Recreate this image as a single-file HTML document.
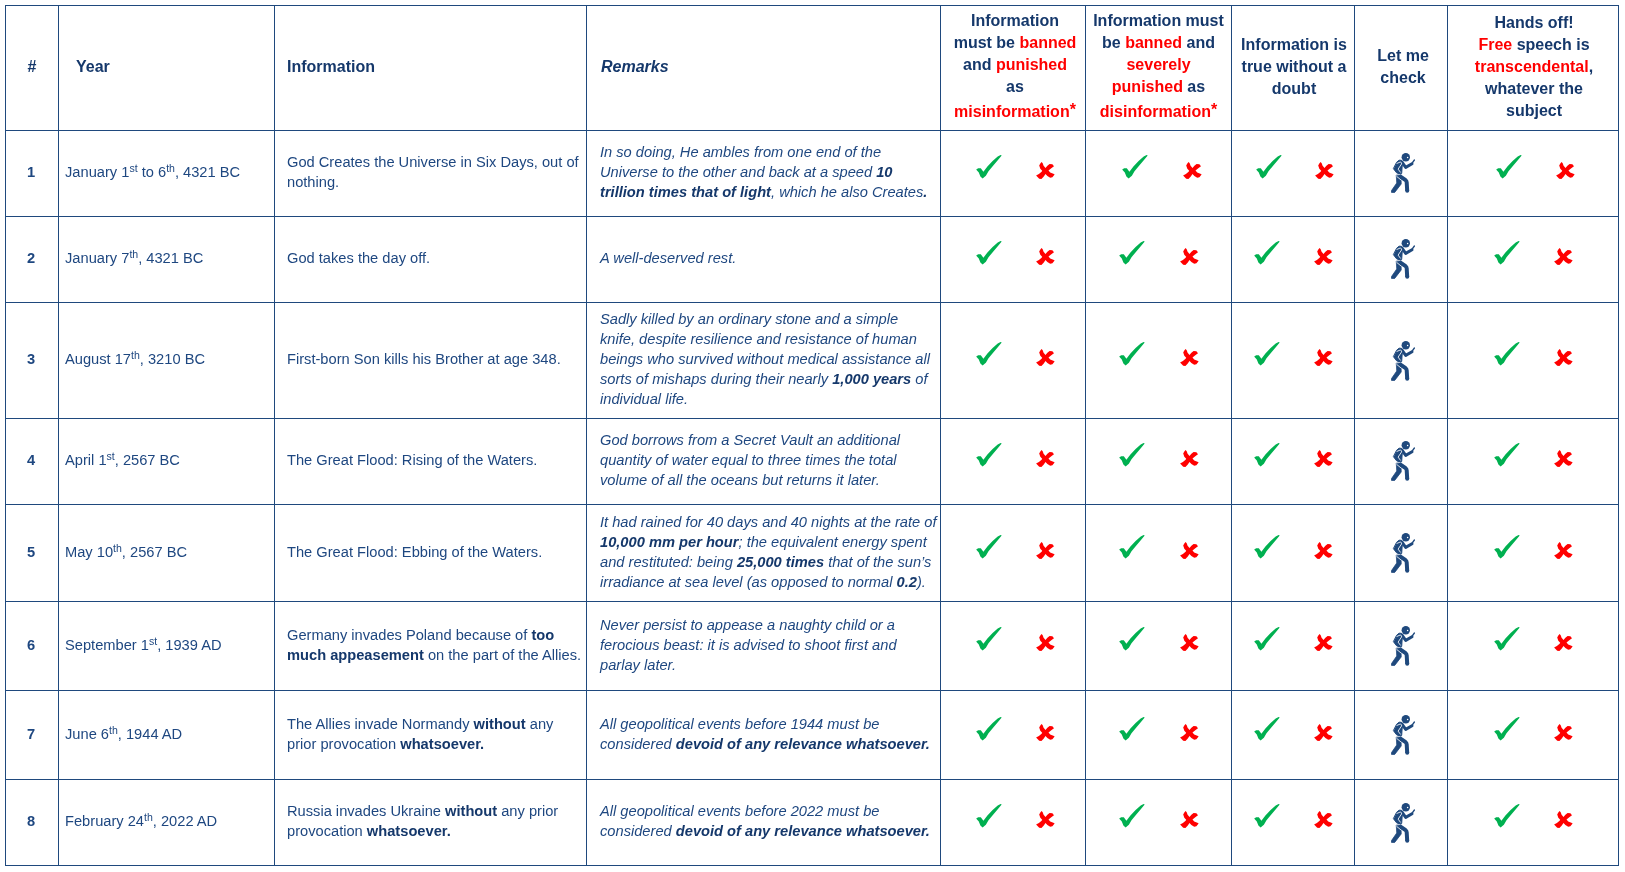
<!DOCTYPE html>
<html><head><meta charset="utf-8"><style>
html,body{margin:0;padding:0;background:#fff;width:1625px;height:872px;overflow:hidden}
body{position:relative;font-family:"Liberation Sans",sans-serif;color:#15386B}
.c{position:absolute;box-sizing:border-box;border:1px solid #1F497D;display:flex;align-items:center}
.hd{font-weight:bold;font-size:16px;line-height:22px;width:100%;position:relative;top:-1px}
.hc{text-align:center}
.r{color:#FF0000}
.t{font-size:14.67px;line-height:20px;width:100%;position:relative;top:-2px;color:#1E4780}
.t b{color:#15386B}
.it{font-style:italic}
sup{font-size:0.72em;vertical-align:baseline;position:relative;top:-0.45em;line-height:0}
.ast{font-size:16px;position:relative;top:-2px;line-height:0}
.ll{display:inline-block;margin-top:3px}
body{-webkit-font-smoothing:antialiased}
.wrap{position:absolute;left:0;top:0;width:1625px;height:872px;will-change:transform}
.ic{position:absolute}
</style></head><body><div class="wrap">
<div class="c" style="left:5px;top:5px;width:54px;height:126px;"><div class="hd" style="text-align:center">#</div></div>
<div class="c" style="left:58px;top:5px;width:217px;height:126px;"><div class="hd" style="padding-left:17px">Year</div></div>
<div class="c" style="left:274px;top:5px;width:313px;height:126px;"><div class="hd" style="padding-left:12px">Information</div></div>
<div class="c" style="left:586px;top:5px;width:355px;height:126px;"><div class="hd" style="padding-left:14px;font-style:italic">Remarks</div></div>
<div class="c" style="left:940px;top:5px;width:146px;height:126px;"><div class="hd hc" style="top:-2px;left:2px">Information<br>must be <span class="r">banned</span><br>and <span class="r">punished</span><br>as<br><span class="ll"><span class="r">misinformation<span class="ast">*</span></span></span></div></div>
<div class="c" style="left:1085px;top:5px;width:147px;height:126px;"><div class="hd hc" style="top:-2px">Information must<br>be <span class="r">banned</span> and<br><span class="r">severely</span><br><span class="r">punished</span> as<br><span class="ll"><span class="r">disinformation<span class="ast">*</span></span></span></div></div>
<div class="c" style="left:1231px;top:5px;width:124px;height:126px;"><div class="hd hc" style="left:1px">Information is<br>true without a<br>doubt</div></div>
<div class="c" style="left:1354px;top:5px;width:94px;height:126px;"><div class="hd hc" style="left:2px">Let me<br>check</div></div>
<div class="c" style="left:1447px;top:5px;width:172px;height:126px;"><div class="hd hc" style="left:1px">Hands off!<br><span class="r">Free</span> speech is<br><span class="r">transcendental</span>,<br>whatever the<br>subject</div></div>
<div class="c" style="left:5px;top:130px;width:54px;height:87px;"><div class="t" style="text-align:center;font-weight:bold;left:-1px;top:-2px">1</div></div>
<div class="c" style="left:58px;top:130px;width:217px;height:87px;"><div class="t" style="padding-left:6px;top:-2px">January 1<sup>st</sup> to 6<sup>th</sup>, 4321 BC</div></div>
<div class="c" style="left:274px;top:130px;width:313px;height:87px;"><div class="t" style="padding-left:12px;top:-2px">God Creates the Universe in Six Days, out of<br>nothing.</div></div>
<div class="c" style="left:586px;top:130px;width:355px;height:87px;"><div class="t it" style="padding-left:13px;top:-2px">In so doing, He ambles from one end of the<br>Universe to the other and back at a speed <b>10</b><br><b>trillion times that of light</b>, which he also Creates<b>.</b></div></div>
<div class="c" style="left:940px;top:130px;width:146px;height:87px;"></div>
<div class="c" style="left:1085px;top:130px;width:147px;height:87px;"></div>
<div class="c" style="left:1231px;top:130px;width:124px;height:87px;"></div>
<div class="c" style="left:1354px;top:130px;width:94px;height:87px;"></div>
<div class="c" style="left:1447px;top:130px;width:172px;height:87px;"></div>
<svg class="ic" style="left:972px;top:150px" width="34" height="32" viewBox="0 0 34 32"><path fill="#00B050" d="M4.2 19.4 L6.2 18.2 L8.8 18.2 L11.4 21.7 L15.4 16.5 L20.6 11.0 L25.7 6.6 L28.6 5.0 L29.7 5.5 L26.4 9.5 L21.3 15.4 L16.5 21.3 L13.9 25.7 L10.6 28.6 L8.4 26.6 L6.8 22.4 L5.0 20.5 Z"/></svg><svg class="ic" style="left:1032px;top:158px" width="28" height="24" viewBox="0 0 28 24"><path fill="#FF0000" d="M9.6 4.1 L10.7 5.2 L11.6 7.7 L13.5 9.9 L15.4 7.7 L17.6 5.9 L20.4 6.2 L22.0 8.3 L19.3 10.2 L16.5 12.4 L18.2 14.6 L22.0 16.0 L22.6 16.5 L20.4 19.3 L18.2 19.8 L15.4 17.9 L13.5 16.0 L11.6 18.7 L9.4 20.9 L7.2 20.7 L4.1 17.4 L6.9 16.0 L9.6 13.8 L10.2 12.7 L8.3 10.7 L7.2 7.4 L8.3 5.5 Z"/></svg><svg class="ic" style="left:1118px;top:150px" width="34" height="32" viewBox="0 0 34 32"><path fill="#00B050" d="M4.2 19.4 L6.2 18.2 L8.8 18.2 L11.4 21.7 L15.4 16.5 L20.6 11.0 L25.7 6.6 L28.6 5.0 L29.7 5.5 L26.4 9.5 L21.3 15.4 L16.5 21.3 L13.9 25.7 L10.6 28.6 L8.4 26.6 L6.8 22.4 L5.0 20.5 Z"/></svg><svg class="ic" style="left:1178.5px;top:158px" width="28" height="24" viewBox="0 0 28 24"><path fill="#FF0000" d="M9.6 4.1 L10.7 5.2 L11.6 7.7 L13.5 9.9 L15.4 7.7 L17.6 5.9 L20.4 6.2 L22.0 8.3 L19.3 10.2 L16.5 12.4 L18.2 14.6 L22.0 16.0 L22.6 16.5 L20.4 19.3 L18.2 19.8 L15.4 17.9 L13.5 16.0 L11.6 18.7 L9.4 20.9 L7.2 20.7 L4.1 17.4 L6.9 16.0 L9.6 13.8 L10.2 12.7 L8.3 10.7 L7.2 7.4 L8.3 5.5 Z"/></svg><svg class="ic" style="left:1252px;top:150px" width="34" height="32" viewBox="0 0 34 32"><path fill="#00B050" d="M4.2 19.4 L6.2 18.2 L8.8 18.2 L11.4 21.7 L15.4 16.5 L20.6 11.0 L25.7 6.6 L28.6 5.0 L29.7 5.5 L26.4 9.5 L21.3 15.4 L16.5 21.3 L13.9 25.7 L10.6 28.6 L8.4 26.6 L6.8 22.4 L5.0 20.5 Z"/></svg><svg class="ic" style="left:1311px;top:158px" width="28" height="24" viewBox="0 0 28 24"><path fill="#FF0000" d="M9.6 4.1 L10.7 5.2 L11.6 7.7 L13.5 9.9 L15.4 7.7 L17.6 5.9 L20.4 6.2 L22.0 8.3 L19.3 10.2 L16.5 12.4 L18.2 14.6 L22.0 16.0 L22.6 16.5 L20.4 19.3 L18.2 19.8 L15.4 17.9 L13.5 16.0 L11.6 18.7 L9.4 20.9 L7.2 20.7 L4.1 17.4 L6.9 16.0 L9.6 13.8 L10.2 12.7 L8.3 10.7 L7.2 7.4 L8.3 5.5 Z"/></svg><svg class="ic" style="left:1491.5px;top:150px" width="34" height="32" viewBox="0 0 34 32"><path fill="#00B050" d="M4.2 19.4 L6.2 18.2 L8.8 18.2 L11.4 21.7 L15.4 16.5 L20.6 11.0 L25.7 6.6 L28.6 5.0 L29.7 5.5 L26.4 9.5 L21.3 15.4 L16.5 21.3 L13.9 25.7 L10.6 28.6 L8.4 26.6 L6.8 22.4 L5.0 20.5 Z"/></svg><svg class="ic" style="left:1551.5px;top:158px" width="28" height="24" viewBox="0 0 28 24"><path fill="#FF0000" d="M9.6 4.1 L10.7 5.2 L11.6 7.7 L13.5 9.9 L15.4 7.7 L17.6 5.9 L20.4 6.2 L22.0 8.3 L19.3 10.2 L16.5 12.4 L18.2 14.6 L22.0 16.0 L22.6 16.5 L20.4 19.3 L18.2 19.8 L15.4 17.9 L13.5 16.0 L11.6 18.7 L9.4 20.9 L7.2 20.7 L4.1 17.4 L6.9 16.0 L9.6 13.8 L10.2 12.7 L8.3 10.7 L7.2 7.4 L8.3 5.5 Z"/></svg><svg class="ic" style="left:1388px;top:150px" width="30" height="45" viewBox="0 0 30 45"><g fill="#1F497D" stroke="#1F497D" stroke-linejoin="round" stroke-linecap="round"><circle cx="17.8" cy="7.2" r="4.2" stroke="none"/><path stroke-width="1" d="M8.9 12.0 L11.1 10.2 L13.4 10.3 L14.7 11.8 L14.1 17 L13.7 23.4 L12 24.2 L8.6 22.8 L5.6 18.9 Z"/><path fill="none" stroke-width="3.0" d="M14.0 12.2 L17.7 17.4 L24.0 13.7"/><path fill="none" stroke-width="1.3" d="M24.2 13.0 L26.4 10.0"/><path stroke-width="0.8" d="M8.6 25.0 L13.0 24.6 L13.2 34 L6.7 42.4 L3.5 42.4 L3.5 40.6 L8.6 33.2 Z"/><path fill="none" stroke-width="4.0" stroke-linecap="butt" d="M11.0 25.6 L17.6 30.2 Q18.6 31 18.7 32.4 L19.2 40.8"/><circle cx="19.2" cy="40.8" r="2.0" stroke="none"/></g><g stroke="#fff" fill="none" stroke-linecap="round" stroke-linejoin="round" stroke-width="0.85"><path d="M9.0 13.4 L12.2 12.0 Q13.9 12.3 13.6 13.9 L10.1 19.1 L12.4 22.2"/><path d="M8.9 26.6 L13.3 30.2"/><path d="M8.4 25.0 L12.2 24.4" stroke-width="0.6"/></g><circle cx="19.6" cy="7.5" r="0.75" fill="#fff"/></svg><div class="c" style="left:5px;top:216px;width:54px;height:87px;"><div class="t" style="text-align:center;font-weight:bold;left:-1px;top:-2px">2</div></div>
<div class="c" style="left:58px;top:216px;width:217px;height:87px;"><div class="t" style="padding-left:6px;top:-2px">January 7<sup>th</sup>, 4321 BC</div></div>
<div class="c" style="left:274px;top:216px;width:313px;height:87px;"><div class="t" style="padding-left:12px;top:-2px">God takes the day off.</div></div>
<div class="c" style="left:586px;top:216px;width:355px;height:87px;"><div class="t it" style="padding-left:13px;top:-2px">A well-deserved rest.</div></div>
<div class="c" style="left:940px;top:216px;width:146px;height:87px;"></div>
<div class="c" style="left:1085px;top:216px;width:147px;height:87px;"></div>
<div class="c" style="left:1231px;top:216px;width:124px;height:87px;"></div>
<div class="c" style="left:1354px;top:216px;width:94px;height:87px;"></div>
<div class="c" style="left:1447px;top:216px;width:172px;height:87px;"></div>
<svg class="ic" style="left:972px;top:236px" width="34" height="32" viewBox="0 0 34 32"><path fill="#00B050" d="M4.2 19.4 L6.2 18.2 L8.8 18.2 L11.4 21.7 L15.4 16.5 L20.6 11.0 L25.7 6.6 L28.6 5.0 L29.7 5.5 L26.4 9.5 L21.3 15.4 L16.5 21.3 L13.9 25.7 L10.6 28.6 L8.4 26.6 L6.8 22.4 L5.0 20.5 Z"/></svg><svg class="ic" style="left:1032px;top:244px" width="28" height="24" viewBox="0 0 28 24"><path fill="#FF0000" d="M9.6 4.1 L10.7 5.2 L11.6 7.7 L13.5 9.9 L15.4 7.7 L17.6 5.9 L20.4 6.2 L22.0 8.3 L19.3 10.2 L16.5 12.4 L18.2 14.6 L22.0 16.0 L22.6 16.5 L20.4 19.3 L18.2 19.8 L15.4 17.9 L13.5 16.0 L11.6 18.7 L9.4 20.9 L7.2 20.7 L4.1 17.4 L6.9 16.0 L9.6 13.8 L10.2 12.7 L8.3 10.7 L7.2 7.4 L8.3 5.5 Z"/></svg><svg class="ic" style="left:1115px;top:236px" width="34" height="32" viewBox="0 0 34 32"><path fill="#00B050" d="M4.2 19.4 L6.2 18.2 L8.8 18.2 L11.4 21.7 L15.4 16.5 L20.6 11.0 L25.7 6.6 L28.6 5.0 L29.7 5.5 L26.4 9.5 L21.3 15.4 L16.5 21.3 L13.9 25.7 L10.6 28.6 L8.4 26.6 L6.8 22.4 L5.0 20.5 Z"/></svg><svg class="ic" style="left:1175.5px;top:244px" width="28" height="24" viewBox="0 0 28 24"><path fill="#FF0000" d="M9.6 4.1 L10.7 5.2 L11.6 7.7 L13.5 9.9 L15.4 7.7 L17.6 5.9 L20.4 6.2 L22.0 8.3 L19.3 10.2 L16.5 12.4 L18.2 14.6 L22.0 16.0 L22.6 16.5 L20.4 19.3 L18.2 19.8 L15.4 17.9 L13.5 16.0 L11.6 18.7 L9.4 20.9 L7.2 20.7 L4.1 17.4 L6.9 16.0 L9.6 13.8 L10.2 12.7 L8.3 10.7 L7.2 7.4 L8.3 5.5 Z"/></svg><svg class="ic" style="left:1250px;top:236px" width="34" height="32" viewBox="0 0 34 32"><path fill="#00B050" d="M4.2 19.4 L6.2 18.2 L8.8 18.2 L11.4 21.7 L15.4 16.5 L20.6 11.0 L25.7 6.6 L28.6 5.0 L29.7 5.5 L26.4 9.5 L21.3 15.4 L16.5 21.3 L13.9 25.7 L10.6 28.6 L8.4 26.6 L6.8 22.4 L5.0 20.5 Z"/></svg><svg class="ic" style="left:1310px;top:244px" width="28" height="24" viewBox="0 0 28 24"><path fill="#FF0000" d="M9.6 4.1 L10.7 5.2 L11.6 7.7 L13.5 9.9 L15.4 7.7 L17.6 5.9 L20.4 6.2 L22.0 8.3 L19.3 10.2 L16.5 12.4 L18.2 14.6 L22.0 16.0 L22.6 16.5 L20.4 19.3 L18.2 19.8 L15.4 17.9 L13.5 16.0 L11.6 18.7 L9.4 20.9 L7.2 20.7 L4.1 17.4 L6.9 16.0 L9.6 13.8 L10.2 12.7 L8.3 10.7 L7.2 7.4 L8.3 5.5 Z"/></svg><svg class="ic" style="left:1489.5px;top:236px" width="34" height="32" viewBox="0 0 34 32"><path fill="#00B050" d="M4.2 19.4 L6.2 18.2 L8.8 18.2 L11.4 21.7 L15.4 16.5 L20.6 11.0 L25.7 6.6 L28.6 5.0 L29.7 5.5 L26.4 9.5 L21.3 15.4 L16.5 21.3 L13.9 25.7 L10.6 28.6 L8.4 26.6 L6.8 22.4 L5.0 20.5 Z"/></svg><svg class="ic" style="left:1550px;top:244px" width="28" height="24" viewBox="0 0 28 24"><path fill="#FF0000" d="M9.6 4.1 L10.7 5.2 L11.6 7.7 L13.5 9.9 L15.4 7.7 L17.6 5.9 L20.4 6.2 L22.0 8.3 L19.3 10.2 L16.5 12.4 L18.2 14.6 L22.0 16.0 L22.6 16.5 L20.4 19.3 L18.2 19.8 L15.4 17.9 L13.5 16.0 L11.6 18.7 L9.4 20.9 L7.2 20.7 L4.1 17.4 L6.9 16.0 L9.6 13.8 L10.2 12.7 L8.3 10.7 L7.2 7.4 L8.3 5.5 Z"/></svg><svg class="ic" style="left:1388px;top:236px" width="30" height="45" viewBox="0 0 30 45"><g fill="#1F497D" stroke="#1F497D" stroke-linejoin="round" stroke-linecap="round"><circle cx="17.8" cy="7.2" r="4.2" stroke="none"/><path stroke-width="1" d="M8.9 12.0 L11.1 10.2 L13.4 10.3 L14.7 11.8 L14.1 17 L13.7 23.4 L12 24.2 L8.6 22.8 L5.6 18.9 Z"/><path fill="none" stroke-width="3.0" d="M14.0 12.2 L17.7 17.4 L24.0 13.7"/><path fill="none" stroke-width="1.3" d="M24.2 13.0 L26.4 10.0"/><path stroke-width="0.8" d="M8.6 25.0 L13.0 24.6 L13.2 34 L6.7 42.4 L3.5 42.4 L3.5 40.6 L8.6 33.2 Z"/><path fill="none" stroke-width="4.0" stroke-linecap="butt" d="M11.0 25.6 L17.6 30.2 Q18.6 31 18.7 32.4 L19.2 40.8"/><circle cx="19.2" cy="40.8" r="2.0" stroke="none"/></g><g stroke="#fff" fill="none" stroke-linecap="round" stroke-linejoin="round" stroke-width="0.85"><path d="M9.0 13.4 L12.2 12.0 Q13.9 12.3 13.6 13.9 L10.1 19.1 L12.4 22.2"/><path d="M8.9 26.6 L13.3 30.2"/><path d="M8.4 25.0 L12.2 24.4" stroke-width="0.6"/></g><circle cx="19.6" cy="7.5" r="0.75" fill="#fff"/></svg><div class="c" style="left:5px;top:302px;width:54px;height:117px;"><div class="t" style="text-align:center;font-weight:bold;left:-1px;top:-2px">3</div></div>
<div class="c" style="left:58px;top:302px;width:217px;height:117px;"><div class="t" style="padding-left:6px;top:-2px">August 17<sup>th</sup>, 3210 BC</div></div>
<div class="c" style="left:274px;top:302px;width:313px;height:117px;"><div class="t" style="padding-left:12px;top:-2px">First-born Son kills his Brother at age 348.</div></div>
<div class="c" style="left:586px;top:302px;width:355px;height:117px;"><div class="t it" style="padding-left:13px;top:-2px">Sadly killed by an ordinary stone and a simple<br>knife, despite resilience and resistance of human<br>beings who survived without medical assistance all<br>sorts of mishaps during their nearly <b>1,000 years</b> of<br>individual life.</div></div>
<div class="c" style="left:940px;top:302px;width:146px;height:117px;"></div>
<div class="c" style="left:1085px;top:302px;width:147px;height:117px;"></div>
<div class="c" style="left:1231px;top:302px;width:124px;height:117px;"></div>
<div class="c" style="left:1354px;top:302px;width:94px;height:117px;"></div>
<div class="c" style="left:1447px;top:302px;width:172px;height:117px;"></div>
<svg class="ic" style="left:972px;top:337px" width="34" height="32" viewBox="0 0 34 32"><path fill="#00B050" d="M4.2 19.4 L6.2 18.2 L8.8 18.2 L11.4 21.7 L15.4 16.5 L20.6 11.0 L25.7 6.6 L28.6 5.0 L29.7 5.5 L26.4 9.5 L21.3 15.4 L16.5 21.3 L13.9 25.7 L10.6 28.6 L8.4 26.6 L6.8 22.4 L5.0 20.5 Z"/></svg><svg class="ic" style="left:1032px;top:345px" width="28" height="24" viewBox="0 0 28 24"><path fill="#FF0000" d="M9.6 4.1 L10.7 5.2 L11.6 7.7 L13.5 9.9 L15.4 7.7 L17.6 5.9 L20.4 6.2 L22.0 8.3 L19.3 10.2 L16.5 12.4 L18.2 14.6 L22.0 16.0 L22.6 16.5 L20.4 19.3 L18.2 19.8 L15.4 17.9 L13.5 16.0 L11.6 18.7 L9.4 20.9 L7.2 20.7 L4.1 17.4 L6.9 16.0 L9.6 13.8 L10.2 12.7 L8.3 10.7 L7.2 7.4 L8.3 5.5 Z"/></svg><svg class="ic" style="left:1115px;top:337px" width="34" height="32" viewBox="0 0 34 32"><path fill="#00B050" d="M4.2 19.4 L6.2 18.2 L8.8 18.2 L11.4 21.7 L15.4 16.5 L20.6 11.0 L25.7 6.6 L28.6 5.0 L29.7 5.5 L26.4 9.5 L21.3 15.4 L16.5 21.3 L13.9 25.7 L10.6 28.6 L8.4 26.6 L6.8 22.4 L5.0 20.5 Z"/></svg><svg class="ic" style="left:1175.5px;top:345px" width="28" height="24" viewBox="0 0 28 24"><path fill="#FF0000" d="M9.6 4.1 L10.7 5.2 L11.6 7.7 L13.5 9.9 L15.4 7.7 L17.6 5.9 L20.4 6.2 L22.0 8.3 L19.3 10.2 L16.5 12.4 L18.2 14.6 L22.0 16.0 L22.6 16.5 L20.4 19.3 L18.2 19.8 L15.4 17.9 L13.5 16.0 L11.6 18.7 L9.4 20.9 L7.2 20.7 L4.1 17.4 L6.9 16.0 L9.6 13.8 L10.2 12.7 L8.3 10.7 L7.2 7.4 L8.3 5.5 Z"/></svg><svg class="ic" style="left:1250px;top:337px" width="34" height="32" viewBox="0 0 34 32"><path fill="#00B050" d="M4.2 19.4 L6.2 18.2 L8.8 18.2 L11.4 21.7 L15.4 16.5 L20.6 11.0 L25.7 6.6 L28.6 5.0 L29.7 5.5 L26.4 9.5 L21.3 15.4 L16.5 21.3 L13.9 25.7 L10.6 28.6 L8.4 26.6 L6.8 22.4 L5.0 20.5 Z"/></svg><svg class="ic" style="left:1310px;top:345px" width="28" height="24" viewBox="0 0 28 24"><path fill="#FF0000" d="M9.6 4.1 L10.7 5.2 L11.6 7.7 L13.5 9.9 L15.4 7.7 L17.6 5.9 L20.4 6.2 L22.0 8.3 L19.3 10.2 L16.5 12.4 L18.2 14.6 L22.0 16.0 L22.6 16.5 L20.4 19.3 L18.2 19.8 L15.4 17.9 L13.5 16.0 L11.6 18.7 L9.4 20.9 L7.2 20.7 L4.1 17.4 L6.9 16.0 L9.6 13.8 L10.2 12.7 L8.3 10.7 L7.2 7.4 L8.3 5.5 Z"/></svg><svg class="ic" style="left:1489.5px;top:337px" width="34" height="32" viewBox="0 0 34 32"><path fill="#00B050" d="M4.2 19.4 L6.2 18.2 L8.8 18.2 L11.4 21.7 L15.4 16.5 L20.6 11.0 L25.7 6.6 L28.6 5.0 L29.7 5.5 L26.4 9.5 L21.3 15.4 L16.5 21.3 L13.9 25.7 L10.6 28.6 L8.4 26.6 L6.8 22.4 L5.0 20.5 Z"/></svg><svg class="ic" style="left:1550px;top:345px" width="28" height="24" viewBox="0 0 28 24"><path fill="#FF0000" d="M9.6 4.1 L10.7 5.2 L11.6 7.7 L13.5 9.9 L15.4 7.7 L17.6 5.9 L20.4 6.2 L22.0 8.3 L19.3 10.2 L16.5 12.4 L18.2 14.6 L22.0 16.0 L22.6 16.5 L20.4 19.3 L18.2 19.8 L15.4 17.9 L13.5 16.0 L11.6 18.7 L9.4 20.9 L7.2 20.7 L4.1 17.4 L6.9 16.0 L9.6 13.8 L10.2 12.7 L8.3 10.7 L7.2 7.4 L8.3 5.5 Z"/></svg><svg class="ic" style="left:1388px;top:338px" width="30" height="45" viewBox="0 0 30 45"><g fill="#1F497D" stroke="#1F497D" stroke-linejoin="round" stroke-linecap="round"><circle cx="17.8" cy="7.2" r="4.2" stroke="none"/><path stroke-width="1" d="M8.9 12.0 L11.1 10.2 L13.4 10.3 L14.7 11.8 L14.1 17 L13.7 23.4 L12 24.2 L8.6 22.8 L5.6 18.9 Z"/><path fill="none" stroke-width="3.0" d="M14.0 12.2 L17.7 17.4 L24.0 13.7"/><path fill="none" stroke-width="1.3" d="M24.2 13.0 L26.4 10.0"/><path stroke-width="0.8" d="M8.6 25.0 L13.0 24.6 L13.2 34 L6.7 42.4 L3.5 42.4 L3.5 40.6 L8.6 33.2 Z"/><path fill="none" stroke-width="4.0" stroke-linecap="butt" d="M11.0 25.6 L17.6 30.2 Q18.6 31 18.7 32.4 L19.2 40.8"/><circle cx="19.2" cy="40.8" r="2.0" stroke="none"/></g><g stroke="#fff" fill="none" stroke-linecap="round" stroke-linejoin="round" stroke-width="0.85"><path d="M9.0 13.4 L12.2 12.0 Q13.9 12.3 13.6 13.9 L10.1 19.1 L12.4 22.2"/><path d="M8.9 26.6 L13.3 30.2"/><path d="M8.4 25.0 L12.2 24.4" stroke-width="0.6"/></g><circle cx="19.6" cy="7.5" r="0.75" fill="#fff"/></svg><div class="c" style="left:5px;top:418px;width:54px;height:87px;"><div class="t" style="text-align:center;font-weight:bold;left:-1px;top:-2px">4</div></div>
<div class="c" style="left:58px;top:418px;width:217px;height:87px;"><div class="t" style="padding-left:6px;top:-2px">April 1<sup>st</sup>, 2567 BC</div></div>
<div class="c" style="left:274px;top:418px;width:313px;height:87px;"><div class="t" style="padding-left:12px;top:-2px">The Great Flood: Rising of the Waters.</div></div>
<div class="c" style="left:586px;top:418px;width:355px;height:87px;"><div class="t it" style="padding-left:13px;top:-2px">God borrows from a Secret Vault an additional<br>quantity of water equal to three times the total<br>volume of all the oceans but returns it later.</div></div>
<div class="c" style="left:940px;top:418px;width:146px;height:87px;"></div>
<div class="c" style="left:1085px;top:418px;width:147px;height:87px;"></div>
<div class="c" style="left:1231px;top:418px;width:124px;height:87px;"></div>
<div class="c" style="left:1354px;top:418px;width:94px;height:87px;"></div>
<div class="c" style="left:1447px;top:418px;width:172px;height:87px;"></div>
<svg class="ic" style="left:972px;top:438px" width="34" height="32" viewBox="0 0 34 32"><path fill="#00B050" d="M4.2 19.4 L6.2 18.2 L8.8 18.2 L11.4 21.7 L15.4 16.5 L20.6 11.0 L25.7 6.6 L28.6 5.0 L29.7 5.5 L26.4 9.5 L21.3 15.4 L16.5 21.3 L13.9 25.7 L10.6 28.6 L8.4 26.6 L6.8 22.4 L5.0 20.5 Z"/></svg><svg class="ic" style="left:1032px;top:446px" width="28" height="24" viewBox="0 0 28 24"><path fill="#FF0000" d="M9.6 4.1 L10.7 5.2 L11.6 7.7 L13.5 9.9 L15.4 7.7 L17.6 5.9 L20.4 6.2 L22.0 8.3 L19.3 10.2 L16.5 12.4 L18.2 14.6 L22.0 16.0 L22.6 16.5 L20.4 19.3 L18.2 19.8 L15.4 17.9 L13.5 16.0 L11.6 18.7 L9.4 20.9 L7.2 20.7 L4.1 17.4 L6.9 16.0 L9.6 13.8 L10.2 12.7 L8.3 10.7 L7.2 7.4 L8.3 5.5 Z"/></svg><svg class="ic" style="left:1115px;top:438px" width="34" height="32" viewBox="0 0 34 32"><path fill="#00B050" d="M4.2 19.4 L6.2 18.2 L8.8 18.2 L11.4 21.7 L15.4 16.5 L20.6 11.0 L25.7 6.6 L28.6 5.0 L29.7 5.5 L26.4 9.5 L21.3 15.4 L16.5 21.3 L13.9 25.7 L10.6 28.6 L8.4 26.6 L6.8 22.4 L5.0 20.5 Z"/></svg><svg class="ic" style="left:1175.5px;top:446px" width="28" height="24" viewBox="0 0 28 24"><path fill="#FF0000" d="M9.6 4.1 L10.7 5.2 L11.6 7.7 L13.5 9.9 L15.4 7.7 L17.6 5.9 L20.4 6.2 L22.0 8.3 L19.3 10.2 L16.5 12.4 L18.2 14.6 L22.0 16.0 L22.6 16.5 L20.4 19.3 L18.2 19.8 L15.4 17.9 L13.5 16.0 L11.6 18.7 L9.4 20.9 L7.2 20.7 L4.1 17.4 L6.9 16.0 L9.6 13.8 L10.2 12.7 L8.3 10.7 L7.2 7.4 L8.3 5.5 Z"/></svg><svg class="ic" style="left:1250px;top:438px" width="34" height="32" viewBox="0 0 34 32"><path fill="#00B050" d="M4.2 19.4 L6.2 18.2 L8.8 18.2 L11.4 21.7 L15.4 16.5 L20.6 11.0 L25.7 6.6 L28.6 5.0 L29.7 5.5 L26.4 9.5 L21.3 15.4 L16.5 21.3 L13.9 25.7 L10.6 28.6 L8.4 26.6 L6.8 22.4 L5.0 20.5 Z"/></svg><svg class="ic" style="left:1310px;top:446px" width="28" height="24" viewBox="0 0 28 24"><path fill="#FF0000" d="M9.6 4.1 L10.7 5.2 L11.6 7.7 L13.5 9.9 L15.4 7.7 L17.6 5.9 L20.4 6.2 L22.0 8.3 L19.3 10.2 L16.5 12.4 L18.2 14.6 L22.0 16.0 L22.6 16.5 L20.4 19.3 L18.2 19.8 L15.4 17.9 L13.5 16.0 L11.6 18.7 L9.4 20.9 L7.2 20.7 L4.1 17.4 L6.9 16.0 L9.6 13.8 L10.2 12.7 L8.3 10.7 L7.2 7.4 L8.3 5.5 Z"/></svg><svg class="ic" style="left:1489.5px;top:438px" width="34" height="32" viewBox="0 0 34 32"><path fill="#00B050" d="M4.2 19.4 L6.2 18.2 L8.8 18.2 L11.4 21.7 L15.4 16.5 L20.6 11.0 L25.7 6.6 L28.6 5.0 L29.7 5.5 L26.4 9.5 L21.3 15.4 L16.5 21.3 L13.9 25.7 L10.6 28.6 L8.4 26.6 L6.8 22.4 L5.0 20.5 Z"/></svg><svg class="ic" style="left:1550px;top:446px" width="28" height="24" viewBox="0 0 28 24"><path fill="#FF0000" d="M9.6 4.1 L10.7 5.2 L11.6 7.7 L13.5 9.9 L15.4 7.7 L17.6 5.9 L20.4 6.2 L22.0 8.3 L19.3 10.2 L16.5 12.4 L18.2 14.6 L22.0 16.0 L22.6 16.5 L20.4 19.3 L18.2 19.8 L15.4 17.9 L13.5 16.0 L11.6 18.7 L9.4 20.9 L7.2 20.7 L4.1 17.4 L6.9 16.0 L9.6 13.8 L10.2 12.7 L8.3 10.7 L7.2 7.4 L8.3 5.5 Z"/></svg><svg class="ic" style="left:1388px;top:438px" width="30" height="45" viewBox="0 0 30 45"><g fill="#1F497D" stroke="#1F497D" stroke-linejoin="round" stroke-linecap="round"><circle cx="17.8" cy="7.2" r="4.2" stroke="none"/><path stroke-width="1" d="M8.9 12.0 L11.1 10.2 L13.4 10.3 L14.7 11.8 L14.1 17 L13.7 23.4 L12 24.2 L8.6 22.8 L5.6 18.9 Z"/><path fill="none" stroke-width="3.0" d="M14.0 12.2 L17.7 17.4 L24.0 13.7"/><path fill="none" stroke-width="1.3" d="M24.2 13.0 L26.4 10.0"/><path stroke-width="0.8" d="M8.6 25.0 L13.0 24.6 L13.2 34 L6.7 42.4 L3.5 42.4 L3.5 40.6 L8.6 33.2 Z"/><path fill="none" stroke-width="4.0" stroke-linecap="butt" d="M11.0 25.6 L17.6 30.2 Q18.6 31 18.7 32.4 L19.2 40.8"/><circle cx="19.2" cy="40.8" r="2.0" stroke="none"/></g><g stroke="#fff" fill="none" stroke-linecap="round" stroke-linejoin="round" stroke-width="0.85"><path d="M9.0 13.4 L12.2 12.0 Q13.9 12.3 13.6 13.9 L10.1 19.1 L12.4 22.2"/><path d="M8.9 26.6 L13.3 30.2"/><path d="M8.4 25.0 L12.2 24.4" stroke-width="0.6"/></g><circle cx="19.6" cy="7.5" r="0.75" fill="#fff"/></svg><div class="c" style="left:5px;top:504px;width:54px;height:98px;"><div class="t" style="text-align:center;font-weight:bold;left:-1px;top:-1px">5</div></div>
<div class="c" style="left:58px;top:504px;width:217px;height:98px;"><div class="t" style="padding-left:6px;top:-1px">May 10<sup>th</sup>, 2567 BC</div></div>
<div class="c" style="left:274px;top:504px;width:313px;height:98px;"><div class="t" style="padding-left:12px;top:-1px">The Great Flood: Ebbing of the Waters.</div></div>
<div class="c" style="left:586px;top:504px;width:355px;height:98px;"><div class="t it" style="padding-left:13px;top:-1px">It had rained for 40 days and 40 nights at the rate of<br><b>10,000 mm per hour</b>; the equivalent energy spent<br>and restituted: being <b>25,000 times</b> that of the sun’s<br>irradiance at sea level (as opposed to normal <b>0.2</b>).</div></div>
<div class="c" style="left:940px;top:504px;width:146px;height:98px;"></div>
<div class="c" style="left:1085px;top:504px;width:147px;height:98px;"></div>
<div class="c" style="left:1231px;top:504px;width:124px;height:98px;"></div>
<div class="c" style="left:1354px;top:504px;width:94px;height:98px;"></div>
<div class="c" style="left:1447px;top:504px;width:172px;height:98px;"></div>
<svg class="ic" style="left:972px;top:530px" width="34" height="32" viewBox="0 0 34 32"><path fill="#00B050" d="M4.2 19.4 L6.2 18.2 L8.8 18.2 L11.4 21.7 L15.4 16.5 L20.6 11.0 L25.7 6.6 L28.6 5.0 L29.7 5.5 L26.4 9.5 L21.3 15.4 L16.5 21.3 L13.9 25.7 L10.6 28.6 L8.4 26.6 L6.8 22.4 L5.0 20.5 Z"/></svg><svg class="ic" style="left:1032px;top:538px" width="28" height="24" viewBox="0 0 28 24"><path fill="#FF0000" d="M9.6 4.1 L10.7 5.2 L11.6 7.7 L13.5 9.9 L15.4 7.7 L17.6 5.9 L20.4 6.2 L22.0 8.3 L19.3 10.2 L16.5 12.4 L18.2 14.6 L22.0 16.0 L22.6 16.5 L20.4 19.3 L18.2 19.8 L15.4 17.9 L13.5 16.0 L11.6 18.7 L9.4 20.9 L7.2 20.7 L4.1 17.4 L6.9 16.0 L9.6 13.8 L10.2 12.7 L8.3 10.7 L7.2 7.4 L8.3 5.5 Z"/></svg><svg class="ic" style="left:1115px;top:530px" width="34" height="32" viewBox="0 0 34 32"><path fill="#00B050" d="M4.2 19.4 L6.2 18.2 L8.8 18.2 L11.4 21.7 L15.4 16.5 L20.6 11.0 L25.7 6.6 L28.6 5.0 L29.7 5.5 L26.4 9.5 L21.3 15.4 L16.5 21.3 L13.9 25.7 L10.6 28.6 L8.4 26.6 L6.8 22.4 L5.0 20.5 Z"/></svg><svg class="ic" style="left:1175.5px;top:538px" width="28" height="24" viewBox="0 0 28 24"><path fill="#FF0000" d="M9.6 4.1 L10.7 5.2 L11.6 7.7 L13.5 9.9 L15.4 7.7 L17.6 5.9 L20.4 6.2 L22.0 8.3 L19.3 10.2 L16.5 12.4 L18.2 14.6 L22.0 16.0 L22.6 16.5 L20.4 19.3 L18.2 19.8 L15.4 17.9 L13.5 16.0 L11.6 18.7 L9.4 20.9 L7.2 20.7 L4.1 17.4 L6.9 16.0 L9.6 13.8 L10.2 12.7 L8.3 10.7 L7.2 7.4 L8.3 5.5 Z"/></svg><svg class="ic" style="left:1250px;top:530px" width="34" height="32" viewBox="0 0 34 32"><path fill="#00B050" d="M4.2 19.4 L6.2 18.2 L8.8 18.2 L11.4 21.7 L15.4 16.5 L20.6 11.0 L25.7 6.6 L28.6 5.0 L29.7 5.5 L26.4 9.5 L21.3 15.4 L16.5 21.3 L13.9 25.7 L10.6 28.6 L8.4 26.6 L6.8 22.4 L5.0 20.5 Z"/></svg><svg class="ic" style="left:1310px;top:538px" width="28" height="24" viewBox="0 0 28 24"><path fill="#FF0000" d="M9.6 4.1 L10.7 5.2 L11.6 7.7 L13.5 9.9 L15.4 7.7 L17.6 5.9 L20.4 6.2 L22.0 8.3 L19.3 10.2 L16.5 12.4 L18.2 14.6 L22.0 16.0 L22.6 16.5 L20.4 19.3 L18.2 19.8 L15.4 17.9 L13.5 16.0 L11.6 18.7 L9.4 20.9 L7.2 20.7 L4.1 17.4 L6.9 16.0 L9.6 13.8 L10.2 12.7 L8.3 10.7 L7.2 7.4 L8.3 5.5 Z"/></svg><svg class="ic" style="left:1489.5px;top:530px" width="34" height="32" viewBox="0 0 34 32"><path fill="#00B050" d="M4.2 19.4 L6.2 18.2 L8.8 18.2 L11.4 21.7 L15.4 16.5 L20.6 11.0 L25.7 6.6 L28.6 5.0 L29.7 5.5 L26.4 9.5 L21.3 15.4 L16.5 21.3 L13.9 25.7 L10.6 28.6 L8.4 26.6 L6.8 22.4 L5.0 20.5 Z"/></svg><svg class="ic" style="left:1550px;top:538px" width="28" height="24" viewBox="0 0 28 24"><path fill="#FF0000" d="M9.6 4.1 L10.7 5.2 L11.6 7.7 L13.5 9.9 L15.4 7.7 L17.6 5.9 L20.4 6.2 L22.0 8.3 L19.3 10.2 L16.5 12.4 L18.2 14.6 L22.0 16.0 L22.6 16.5 L20.4 19.3 L18.2 19.8 L15.4 17.9 L13.5 16.0 L11.6 18.7 L9.4 20.9 L7.2 20.7 L4.1 17.4 L6.9 16.0 L9.6 13.8 L10.2 12.7 L8.3 10.7 L7.2 7.4 L8.3 5.5 Z"/></svg><svg class="ic" style="left:1388px;top:530px" width="30" height="45" viewBox="0 0 30 45"><g fill="#1F497D" stroke="#1F497D" stroke-linejoin="round" stroke-linecap="round"><circle cx="17.8" cy="7.2" r="4.2" stroke="none"/><path stroke-width="1" d="M8.9 12.0 L11.1 10.2 L13.4 10.3 L14.7 11.8 L14.1 17 L13.7 23.4 L12 24.2 L8.6 22.8 L5.6 18.9 Z"/><path fill="none" stroke-width="3.0" d="M14.0 12.2 L17.7 17.4 L24.0 13.7"/><path fill="none" stroke-width="1.3" d="M24.2 13.0 L26.4 10.0"/><path stroke-width="0.8" d="M8.6 25.0 L13.0 24.6 L13.2 34 L6.7 42.4 L3.5 42.4 L3.5 40.6 L8.6 33.2 Z"/><path fill="none" stroke-width="4.0" stroke-linecap="butt" d="M11.0 25.6 L17.6 30.2 Q18.6 31 18.7 32.4 L19.2 40.8"/><circle cx="19.2" cy="40.8" r="2.0" stroke="none"/></g><g stroke="#fff" fill="none" stroke-linecap="round" stroke-linejoin="round" stroke-width="0.85"><path d="M9.0 13.4 L12.2 12.0 Q13.9 12.3 13.6 13.9 L10.1 19.1 L12.4 22.2"/><path d="M8.9 26.6 L13.3 30.2"/><path d="M8.4 25.0 L12.2 24.4" stroke-width="0.6"/></g><circle cx="19.6" cy="7.5" r="0.75" fill="#fff"/></svg><div class="c" style="left:5px;top:601px;width:54px;height:90px;"><div class="t" style="text-align:center;font-weight:bold;left:-1px;top:-1px">6</div></div>
<div class="c" style="left:58px;top:601px;width:217px;height:90px;"><div class="t" style="padding-left:6px;top:-1px">September 1<sup>st</sup>, 1939 AD</div></div>
<div class="c" style="left:274px;top:601px;width:313px;height:90px;"><div class="t" style="padding-left:12px;top:-1px">Germany invades Poland because of <b>too</b><br><b>much appeasement</b> on the part of the Allies.</div></div>
<div class="c" style="left:586px;top:601px;width:355px;height:90px;"><div class="t it" style="padding-left:13px;top:-1px">Never persist to appease a naughty child or a<br>ferocious beast: it is advised to shoot first and<br>parlay later.</div></div>
<div class="c" style="left:940px;top:601px;width:146px;height:90px;"></div>
<div class="c" style="left:1085px;top:601px;width:147px;height:90px;"></div>
<div class="c" style="left:1231px;top:601px;width:124px;height:90px;"></div>
<div class="c" style="left:1354px;top:601px;width:94px;height:90px;"></div>
<div class="c" style="left:1447px;top:601px;width:172px;height:90px;"></div>
<svg class="ic" style="left:972px;top:622px" width="34" height="32" viewBox="0 0 34 32"><path fill="#00B050" d="M4.2 19.4 L6.2 18.2 L8.8 18.2 L11.4 21.7 L15.4 16.5 L20.6 11.0 L25.7 6.6 L28.6 5.0 L29.7 5.5 L26.4 9.5 L21.3 15.4 L16.5 21.3 L13.9 25.7 L10.6 28.6 L8.4 26.6 L6.8 22.4 L5.0 20.5 Z"/></svg><svg class="ic" style="left:1032px;top:630px" width="28" height="24" viewBox="0 0 28 24"><path fill="#FF0000" d="M9.6 4.1 L10.7 5.2 L11.6 7.7 L13.5 9.9 L15.4 7.7 L17.6 5.9 L20.4 6.2 L22.0 8.3 L19.3 10.2 L16.5 12.4 L18.2 14.6 L22.0 16.0 L22.6 16.5 L20.4 19.3 L18.2 19.8 L15.4 17.9 L13.5 16.0 L11.6 18.7 L9.4 20.9 L7.2 20.7 L4.1 17.4 L6.9 16.0 L9.6 13.8 L10.2 12.7 L8.3 10.7 L7.2 7.4 L8.3 5.5 Z"/></svg><svg class="ic" style="left:1115px;top:622px" width="34" height="32" viewBox="0 0 34 32"><path fill="#00B050" d="M4.2 19.4 L6.2 18.2 L8.8 18.2 L11.4 21.7 L15.4 16.5 L20.6 11.0 L25.7 6.6 L28.6 5.0 L29.7 5.5 L26.4 9.5 L21.3 15.4 L16.5 21.3 L13.9 25.7 L10.6 28.6 L8.4 26.6 L6.8 22.4 L5.0 20.5 Z"/></svg><svg class="ic" style="left:1175.5px;top:630px" width="28" height="24" viewBox="0 0 28 24"><path fill="#FF0000" d="M9.6 4.1 L10.7 5.2 L11.6 7.7 L13.5 9.9 L15.4 7.7 L17.6 5.9 L20.4 6.2 L22.0 8.3 L19.3 10.2 L16.5 12.4 L18.2 14.6 L22.0 16.0 L22.6 16.5 L20.4 19.3 L18.2 19.8 L15.4 17.9 L13.5 16.0 L11.6 18.7 L9.4 20.9 L7.2 20.7 L4.1 17.4 L6.9 16.0 L9.6 13.8 L10.2 12.7 L8.3 10.7 L7.2 7.4 L8.3 5.5 Z"/></svg><svg class="ic" style="left:1250px;top:622px" width="34" height="32" viewBox="0 0 34 32"><path fill="#00B050" d="M4.2 19.4 L6.2 18.2 L8.8 18.2 L11.4 21.7 L15.4 16.5 L20.6 11.0 L25.7 6.6 L28.6 5.0 L29.7 5.5 L26.4 9.5 L21.3 15.4 L16.5 21.3 L13.9 25.7 L10.6 28.6 L8.4 26.6 L6.8 22.4 L5.0 20.5 Z"/></svg><svg class="ic" style="left:1310px;top:630px" width="28" height="24" viewBox="0 0 28 24"><path fill="#FF0000" d="M9.6 4.1 L10.7 5.2 L11.6 7.7 L13.5 9.9 L15.4 7.7 L17.6 5.9 L20.4 6.2 L22.0 8.3 L19.3 10.2 L16.5 12.4 L18.2 14.6 L22.0 16.0 L22.6 16.5 L20.4 19.3 L18.2 19.8 L15.4 17.9 L13.5 16.0 L11.6 18.7 L9.4 20.9 L7.2 20.7 L4.1 17.4 L6.9 16.0 L9.6 13.8 L10.2 12.7 L8.3 10.7 L7.2 7.4 L8.3 5.5 Z"/></svg><svg class="ic" style="left:1489.5px;top:622px" width="34" height="32" viewBox="0 0 34 32"><path fill="#00B050" d="M4.2 19.4 L6.2 18.2 L8.8 18.2 L11.4 21.7 L15.4 16.5 L20.6 11.0 L25.7 6.6 L28.6 5.0 L29.7 5.5 L26.4 9.5 L21.3 15.4 L16.5 21.3 L13.9 25.7 L10.6 28.6 L8.4 26.6 L6.8 22.4 L5.0 20.5 Z"/></svg><svg class="ic" style="left:1550px;top:630px" width="28" height="24" viewBox="0 0 28 24"><path fill="#FF0000" d="M9.6 4.1 L10.7 5.2 L11.6 7.7 L13.5 9.9 L15.4 7.7 L17.6 5.9 L20.4 6.2 L22.0 8.3 L19.3 10.2 L16.5 12.4 L18.2 14.6 L22.0 16.0 L22.6 16.5 L20.4 19.3 L18.2 19.8 L15.4 17.9 L13.5 16.0 L11.6 18.7 L9.4 20.9 L7.2 20.7 L4.1 17.4 L6.9 16.0 L9.6 13.8 L10.2 12.7 L8.3 10.7 L7.2 7.4 L8.3 5.5 Z"/></svg><svg class="ic" style="left:1388px;top:623px" width="30" height="45" viewBox="0 0 30 45"><g fill="#1F497D" stroke="#1F497D" stroke-linejoin="round" stroke-linecap="round"><circle cx="17.8" cy="7.2" r="4.2" stroke="none"/><path stroke-width="1" d="M8.9 12.0 L11.1 10.2 L13.4 10.3 L14.7 11.8 L14.1 17 L13.7 23.4 L12 24.2 L8.6 22.8 L5.6 18.9 Z"/><path fill="none" stroke-width="3.0" d="M14.0 12.2 L17.7 17.4 L24.0 13.7"/><path fill="none" stroke-width="1.3" d="M24.2 13.0 L26.4 10.0"/><path stroke-width="0.8" d="M8.6 25.0 L13.0 24.6 L13.2 34 L6.7 42.4 L3.5 42.4 L3.5 40.6 L8.6 33.2 Z"/><path fill="none" stroke-width="4.0" stroke-linecap="butt" d="M11.0 25.6 L17.6 30.2 Q18.6 31 18.7 32.4 L19.2 40.8"/><circle cx="19.2" cy="40.8" r="2.0" stroke="none"/></g><g stroke="#fff" fill="none" stroke-linecap="round" stroke-linejoin="round" stroke-width="0.85"><path d="M9.0 13.4 L12.2 12.0 Q13.9 12.3 13.6 13.9 L10.1 19.1 L12.4 22.2"/><path d="M8.9 26.6 L13.3 30.2"/><path d="M8.4 25.0 L12.2 24.4" stroke-width="0.6"/></g><circle cx="19.6" cy="7.5" r="0.75" fill="#fff"/></svg><div class="c" style="left:5px;top:690px;width:54px;height:90px;"><div class="t" style="text-align:center;font-weight:bold;left:-1px;top:-1px">7</div></div>
<div class="c" style="left:58px;top:690px;width:217px;height:90px;"><div class="t" style="padding-left:6px;top:-1px">June 6<sup>th</sup>, 1944 AD</div></div>
<div class="c" style="left:274px;top:690px;width:313px;height:90px;"><div class="t" style="padding-left:12px;top:-1px">The Allies invade Normandy <b>without</b> any<br>prior provocation <b>whatsoever.</b></div></div>
<div class="c" style="left:586px;top:690px;width:355px;height:90px;"><div class="t it" style="padding-left:13px;top:-1px">All geopolitical events before 1944 must be<br>considered <b>devoid of any relevance whatsoever.</b></div></div>
<div class="c" style="left:940px;top:690px;width:146px;height:90px;"></div>
<div class="c" style="left:1085px;top:690px;width:147px;height:90px;"></div>
<div class="c" style="left:1231px;top:690px;width:124px;height:90px;"></div>
<div class="c" style="left:1354px;top:690px;width:94px;height:90px;"></div>
<div class="c" style="left:1447px;top:690px;width:172px;height:90px;"></div>
<svg class="ic" style="left:972px;top:712px" width="34" height="32" viewBox="0 0 34 32"><path fill="#00B050" d="M4.2 19.4 L6.2 18.2 L8.8 18.2 L11.4 21.7 L15.4 16.5 L20.6 11.0 L25.7 6.6 L28.6 5.0 L29.7 5.5 L26.4 9.5 L21.3 15.4 L16.5 21.3 L13.9 25.7 L10.6 28.6 L8.4 26.6 L6.8 22.4 L5.0 20.5 Z"/></svg><svg class="ic" style="left:1032px;top:720px" width="28" height="24" viewBox="0 0 28 24"><path fill="#FF0000" d="M9.6 4.1 L10.7 5.2 L11.6 7.7 L13.5 9.9 L15.4 7.7 L17.6 5.9 L20.4 6.2 L22.0 8.3 L19.3 10.2 L16.5 12.4 L18.2 14.6 L22.0 16.0 L22.6 16.5 L20.4 19.3 L18.2 19.8 L15.4 17.9 L13.5 16.0 L11.6 18.7 L9.4 20.9 L7.2 20.7 L4.1 17.4 L6.9 16.0 L9.6 13.8 L10.2 12.7 L8.3 10.7 L7.2 7.4 L8.3 5.5 Z"/></svg><svg class="ic" style="left:1115px;top:712px" width="34" height="32" viewBox="0 0 34 32"><path fill="#00B050" d="M4.2 19.4 L6.2 18.2 L8.8 18.2 L11.4 21.7 L15.4 16.5 L20.6 11.0 L25.7 6.6 L28.6 5.0 L29.7 5.5 L26.4 9.5 L21.3 15.4 L16.5 21.3 L13.9 25.7 L10.6 28.6 L8.4 26.6 L6.8 22.4 L5.0 20.5 Z"/></svg><svg class="ic" style="left:1175.5px;top:720px" width="28" height="24" viewBox="0 0 28 24"><path fill="#FF0000" d="M9.6 4.1 L10.7 5.2 L11.6 7.7 L13.5 9.9 L15.4 7.7 L17.6 5.9 L20.4 6.2 L22.0 8.3 L19.3 10.2 L16.5 12.4 L18.2 14.6 L22.0 16.0 L22.6 16.5 L20.4 19.3 L18.2 19.8 L15.4 17.9 L13.5 16.0 L11.6 18.7 L9.4 20.9 L7.2 20.7 L4.1 17.4 L6.9 16.0 L9.6 13.8 L10.2 12.7 L8.3 10.7 L7.2 7.4 L8.3 5.5 Z"/></svg><svg class="ic" style="left:1250px;top:712px" width="34" height="32" viewBox="0 0 34 32"><path fill="#00B050" d="M4.2 19.4 L6.2 18.2 L8.8 18.2 L11.4 21.7 L15.4 16.5 L20.6 11.0 L25.7 6.6 L28.6 5.0 L29.7 5.5 L26.4 9.5 L21.3 15.4 L16.5 21.3 L13.9 25.7 L10.6 28.6 L8.4 26.6 L6.8 22.4 L5.0 20.5 Z"/></svg><svg class="ic" style="left:1310px;top:720px" width="28" height="24" viewBox="0 0 28 24"><path fill="#FF0000" d="M9.6 4.1 L10.7 5.2 L11.6 7.7 L13.5 9.9 L15.4 7.7 L17.6 5.9 L20.4 6.2 L22.0 8.3 L19.3 10.2 L16.5 12.4 L18.2 14.6 L22.0 16.0 L22.6 16.5 L20.4 19.3 L18.2 19.8 L15.4 17.9 L13.5 16.0 L11.6 18.7 L9.4 20.9 L7.2 20.7 L4.1 17.4 L6.9 16.0 L9.6 13.8 L10.2 12.7 L8.3 10.7 L7.2 7.4 L8.3 5.5 Z"/></svg><svg class="ic" style="left:1489.5px;top:712px" width="34" height="32" viewBox="0 0 34 32"><path fill="#00B050" d="M4.2 19.4 L6.2 18.2 L8.8 18.2 L11.4 21.7 L15.4 16.5 L20.6 11.0 L25.7 6.6 L28.6 5.0 L29.7 5.5 L26.4 9.5 L21.3 15.4 L16.5 21.3 L13.9 25.7 L10.6 28.6 L8.4 26.6 L6.8 22.4 L5.0 20.5 Z"/></svg><svg class="ic" style="left:1550px;top:720px" width="28" height="24" viewBox="0 0 28 24"><path fill="#FF0000" d="M9.6 4.1 L10.7 5.2 L11.6 7.7 L13.5 9.9 L15.4 7.7 L17.6 5.9 L20.4 6.2 L22.0 8.3 L19.3 10.2 L16.5 12.4 L18.2 14.6 L22.0 16.0 L22.6 16.5 L20.4 19.3 L18.2 19.8 L15.4 17.9 L13.5 16.0 L11.6 18.7 L9.4 20.9 L7.2 20.7 L4.1 17.4 L6.9 16.0 L9.6 13.8 L10.2 12.7 L8.3 10.7 L7.2 7.4 L8.3 5.5 Z"/></svg><svg class="ic" style="left:1388px;top:712px" width="30" height="45" viewBox="0 0 30 45"><g fill="#1F497D" stroke="#1F497D" stroke-linejoin="round" stroke-linecap="round"><circle cx="17.8" cy="7.2" r="4.2" stroke="none"/><path stroke-width="1" d="M8.9 12.0 L11.1 10.2 L13.4 10.3 L14.7 11.8 L14.1 17 L13.7 23.4 L12 24.2 L8.6 22.8 L5.6 18.9 Z"/><path fill="none" stroke-width="3.0" d="M14.0 12.2 L17.7 17.4 L24.0 13.7"/><path fill="none" stroke-width="1.3" d="M24.2 13.0 L26.4 10.0"/><path stroke-width="0.8" d="M8.6 25.0 L13.0 24.6 L13.2 34 L6.7 42.4 L3.5 42.4 L3.5 40.6 L8.6 33.2 Z"/><path fill="none" stroke-width="4.0" stroke-linecap="butt" d="M11.0 25.6 L17.6 30.2 Q18.6 31 18.7 32.4 L19.2 40.8"/><circle cx="19.2" cy="40.8" r="2.0" stroke="none"/></g><g stroke="#fff" fill="none" stroke-linecap="round" stroke-linejoin="round" stroke-width="0.85"><path d="M9.0 13.4 L12.2 12.0 Q13.9 12.3 13.6 13.9 L10.1 19.1 L12.4 22.2"/><path d="M8.9 26.6 L13.3 30.2"/><path d="M8.4 25.0 L12.2 24.4" stroke-width="0.6"/></g><circle cx="19.6" cy="7.5" r="0.75" fill="#fff"/></svg><div class="c" style="left:5px;top:779px;width:54px;height:87px;"><div class="t" style="text-align:center;font-weight:bold;left:-1px;top:-2px">8</div></div>
<div class="c" style="left:58px;top:779px;width:217px;height:87px;"><div class="t" style="padding-left:6px;top:-2px">February 24<sup>th</sup>, 2022 AD</div></div>
<div class="c" style="left:274px;top:779px;width:313px;height:87px;"><div class="t" style="padding-left:12px;top:-2px">Russia invades Ukraine <b>without</b> any prior<br>provocation <b>whatsoever.</b></div></div>
<div class="c" style="left:586px;top:779px;width:355px;height:87px;"><div class="t it" style="padding-left:13px;top:-2px">All geopolitical events before 2022 must be<br>considered <b>devoid of any relevance whatsoever.</b></div></div>
<div class="c" style="left:940px;top:779px;width:146px;height:87px;"></div>
<div class="c" style="left:1085px;top:779px;width:147px;height:87px;"></div>
<div class="c" style="left:1231px;top:779px;width:124px;height:87px;"></div>
<div class="c" style="left:1354px;top:779px;width:94px;height:87px;"></div>
<div class="c" style="left:1447px;top:779px;width:172px;height:87px;"></div>
<svg class="ic" style="left:972px;top:799px" width="34" height="32" viewBox="0 0 34 32"><path fill="#00B050" d="M4.2 19.4 L6.2 18.2 L8.8 18.2 L11.4 21.7 L15.4 16.5 L20.6 11.0 L25.7 6.6 L28.6 5.0 L29.7 5.5 L26.4 9.5 L21.3 15.4 L16.5 21.3 L13.9 25.7 L10.6 28.6 L8.4 26.6 L6.8 22.4 L5.0 20.5 Z"/></svg><svg class="ic" style="left:1032px;top:807px" width="28" height="24" viewBox="0 0 28 24"><path fill="#FF0000" d="M9.6 4.1 L10.7 5.2 L11.6 7.7 L13.5 9.9 L15.4 7.7 L17.6 5.9 L20.4 6.2 L22.0 8.3 L19.3 10.2 L16.5 12.4 L18.2 14.6 L22.0 16.0 L22.6 16.5 L20.4 19.3 L18.2 19.8 L15.4 17.9 L13.5 16.0 L11.6 18.7 L9.4 20.9 L7.2 20.7 L4.1 17.4 L6.9 16.0 L9.6 13.8 L10.2 12.7 L8.3 10.7 L7.2 7.4 L8.3 5.5 Z"/></svg><svg class="ic" style="left:1115px;top:799px" width="34" height="32" viewBox="0 0 34 32"><path fill="#00B050" d="M4.2 19.4 L6.2 18.2 L8.8 18.2 L11.4 21.7 L15.4 16.5 L20.6 11.0 L25.7 6.6 L28.6 5.0 L29.7 5.5 L26.4 9.5 L21.3 15.4 L16.5 21.3 L13.9 25.7 L10.6 28.6 L8.4 26.6 L6.8 22.4 L5.0 20.5 Z"/></svg><svg class="ic" style="left:1175.5px;top:807px" width="28" height="24" viewBox="0 0 28 24"><path fill="#FF0000" d="M9.6 4.1 L10.7 5.2 L11.6 7.7 L13.5 9.9 L15.4 7.7 L17.6 5.9 L20.4 6.2 L22.0 8.3 L19.3 10.2 L16.5 12.4 L18.2 14.6 L22.0 16.0 L22.6 16.5 L20.4 19.3 L18.2 19.8 L15.4 17.9 L13.5 16.0 L11.6 18.7 L9.4 20.9 L7.2 20.7 L4.1 17.4 L6.9 16.0 L9.6 13.8 L10.2 12.7 L8.3 10.7 L7.2 7.4 L8.3 5.5 Z"/></svg><svg class="ic" style="left:1250px;top:799px" width="34" height="32" viewBox="0 0 34 32"><path fill="#00B050" d="M4.2 19.4 L6.2 18.2 L8.8 18.2 L11.4 21.7 L15.4 16.5 L20.6 11.0 L25.7 6.6 L28.6 5.0 L29.7 5.5 L26.4 9.5 L21.3 15.4 L16.5 21.3 L13.9 25.7 L10.6 28.6 L8.4 26.6 L6.8 22.4 L5.0 20.5 Z"/></svg><svg class="ic" style="left:1310px;top:807px" width="28" height="24" viewBox="0 0 28 24"><path fill="#FF0000" d="M9.6 4.1 L10.7 5.2 L11.6 7.7 L13.5 9.9 L15.4 7.7 L17.6 5.9 L20.4 6.2 L22.0 8.3 L19.3 10.2 L16.5 12.4 L18.2 14.6 L22.0 16.0 L22.6 16.5 L20.4 19.3 L18.2 19.8 L15.4 17.9 L13.5 16.0 L11.6 18.7 L9.4 20.9 L7.2 20.7 L4.1 17.4 L6.9 16.0 L9.6 13.8 L10.2 12.7 L8.3 10.7 L7.2 7.4 L8.3 5.5 Z"/></svg><svg class="ic" style="left:1489.5px;top:799px" width="34" height="32" viewBox="0 0 34 32"><path fill="#00B050" d="M4.2 19.4 L6.2 18.2 L8.8 18.2 L11.4 21.7 L15.4 16.5 L20.6 11.0 L25.7 6.6 L28.6 5.0 L29.7 5.5 L26.4 9.5 L21.3 15.4 L16.5 21.3 L13.9 25.7 L10.6 28.6 L8.4 26.6 L6.8 22.4 L5.0 20.5 Z"/></svg><svg class="ic" style="left:1550px;top:807px" width="28" height="24" viewBox="0 0 28 24"><path fill="#FF0000" d="M9.6 4.1 L10.7 5.2 L11.6 7.7 L13.5 9.9 L15.4 7.7 L17.6 5.9 L20.4 6.2 L22.0 8.3 L19.3 10.2 L16.5 12.4 L18.2 14.6 L22.0 16.0 L22.6 16.5 L20.4 19.3 L18.2 19.8 L15.4 17.9 L13.5 16.0 L11.6 18.7 L9.4 20.9 L7.2 20.7 L4.1 17.4 L6.9 16.0 L9.6 13.8 L10.2 12.7 L8.3 10.7 L7.2 7.4 L8.3 5.5 Z"/></svg><svg class="ic" style="left:1388px;top:800px" width="30" height="45" viewBox="0 0 30 45"><g fill="#1F497D" stroke="#1F497D" stroke-linejoin="round" stroke-linecap="round"><circle cx="17.8" cy="7.2" r="4.2" stroke="none"/><path stroke-width="1" d="M8.9 12.0 L11.1 10.2 L13.4 10.3 L14.7 11.8 L14.1 17 L13.7 23.4 L12 24.2 L8.6 22.8 L5.6 18.9 Z"/><path fill="none" stroke-width="3.0" d="M14.0 12.2 L17.7 17.4 L24.0 13.7"/><path fill="none" stroke-width="1.3" d="M24.2 13.0 L26.4 10.0"/><path stroke-width="0.8" d="M8.6 25.0 L13.0 24.6 L13.2 34 L6.7 42.4 L3.5 42.4 L3.5 40.6 L8.6 33.2 Z"/><path fill="none" stroke-width="4.0" stroke-linecap="butt" d="M11.0 25.6 L17.6 30.2 Q18.6 31 18.7 32.4 L19.2 40.8"/><circle cx="19.2" cy="40.8" r="2.0" stroke="none"/></g><g stroke="#fff" fill="none" stroke-linecap="round" stroke-linejoin="round" stroke-width="0.85"><path d="M9.0 13.4 L12.2 12.0 Q13.9 12.3 13.6 13.9 L10.1 19.1 L12.4 22.2"/><path d="M8.9 26.6 L13.3 30.2"/><path d="M8.4 25.0 L12.2 24.4" stroke-width="0.6"/></g><circle cx="19.6" cy="7.5" r="0.75" fill="#fff"/></svg></div></body></html>
